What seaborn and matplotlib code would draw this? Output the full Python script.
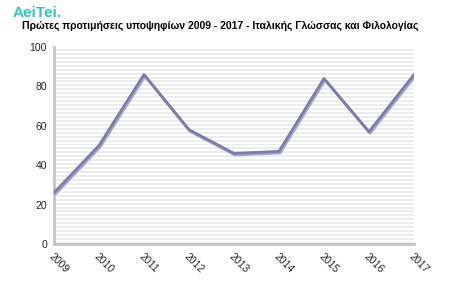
import matplotlib
matplotlib.use("Agg")
import matplotlib.pyplot as plt
import matplotlib.patheffects as pe
import seaborn as sns
import pandas as pd
import numpy as np

years = ["2009", "2010", "2011", "2012", "2013", "2014", "2015", "2016", "2017"]
values = [26, 50, 86, 58, 46, 47, 84, 57, 86]
y_ticks = [0, 20, 40, 60, 80, 100]
title = "Πρώτες προτιμήσεις υποψηφίων 2009 - 2017 - Ιταλικής Γλώσσας και Φιλολογίας"

sns.set_style("white")
plt.rcParams['font.family'] = ['Liberation Sans', 'DejaVu Sans']

df = pd.DataFrame({"year": years, "value": values})
df["x"] = np.arange(len(years))

fig = plt.figure(figsize=(4.5, 3.0), dpi=100)
ax = fig.add_axes([0.12, 0.1867, 0.80, 0.6567])

# striped background
for y0 in np.arange(0, 100, 2.0):
    ax.axhspan(y0, y0 + 1.0, color="#ececec", lw=0, zorder=0)

sns.lineplot(data=df, x="x", y="value", ax=ax, color="#7c7ca6", linewidth=2.0,
             zorder=3,
             path_effects=[pe.SimpleLineShadow(offset=(0.8, -1.2), shadow_color="#a8a8d8", alpha=1.0),
                           pe.Normal()])

ax.set_xlim(0, len(years) - 1)
ax.set_ylim(0, 100)
ax.set_xticks(df["x"])
ax.set_xticklabels(years, rotation=-45, ha="left", va="top", rotation_mode="anchor", fontsize=7.5)
ax.set_yticks(y_ticks)
ax.set_yticklabels([str(t) for t in y_ticks], fontsize=7.5)
ax.set_xlabel("")
ax.set_ylabel("")
ax.tick_params(axis="both", length=3, width=1, color="#b0b0b0", pad=2)

for s in ["top", "right"]:
    ax.spines[s].set_visible(False)
for s in ["left", "bottom"]:
    ax.spines[s].set_color("#c4c4c4")
    ax.spines[s].set_linewidth(2)

fig.text(0.027, 0.958, "AeiTei.", color="#33c3c8", fontsize=11, fontweight="bold", va="center", ha="left")
fig.text(0.049, 0.915, title, color="black", fontsize=7.5, fontweight="bold", va="center", ha="left")

fig.savefig("out.png", dpi=100)
